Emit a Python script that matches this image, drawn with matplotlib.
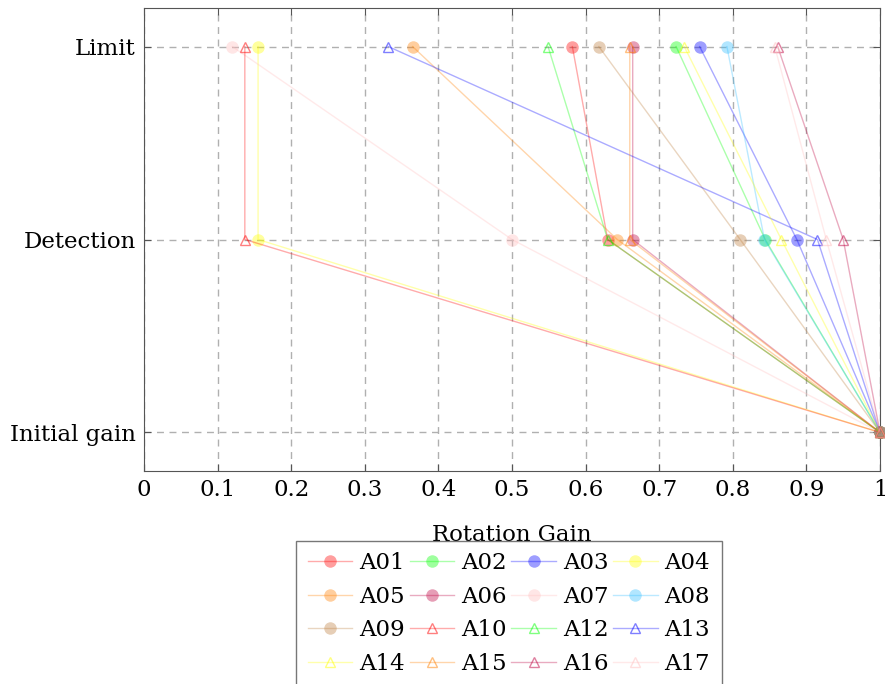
import matplotlib
matplotlib.use("Agg")
import matplotlib.pyplot as plt

plt.rcParams['font.family'] = ['DejaVu Serif']

names = ["A01", "A02", "A03", "A04", "A05", "A06", "A07", "A08", "A09",
         "A10", "A12", "A13", "A14", "A15", "A16", "A17"]
initial = [1.0] * 16
detection = [0.630, 0.844, 0.887, 0.155, 0.643, 0.664, 0.500, 0.843, 0.810,
             0.137, 0.630, 0.915, 0.866, 0.660, 0.950, 0.927]
limit = [0.582, 0.723, 0.755, 0.155, 0.365, 0.664, 0.120, 0.792, 0.618,
         0.137, 0.549, 0.332, 0.734, 0.660, 0.861, 0.857]
markers = ["o"] * 9 + ["^"] * 7
stages = ["Initial gain", "Detection", "Limit"]
xticks = [0, 0.1, 0.2, 0.3, 0.4, 0.5, 0.6, 0.7, 0.8, 0.9, 1]
xticklabels = ["0", "0.1", "0.2", "0.3", "0.4", "0.5", "0.6", "0.7", "0.8", "0.9", "1"]

palette = {
    "red": (1, 0, 0), "green": (0, 1, 0), "blue": (0, 0, 1), "yellow": (1, 1, 0),
    "orange": (1, 0.5, 0), "purple": (0.75, 0, 0.25), "pink": (1, 0.75, 0.75),
    "cyan": (0.2, 0.75, 1.0), "brown": (0.75, 0.5, 0.25),
}
color_names = ["red", "green", "blue", "yellow", "orange", "purple", "pink", "cyan", "brown",
               "red", "green", "blue", "yellow", "orange", "purple", "pink"]

FS = 16.5

fig = plt.figure(figsize=(8.85, 6.84), dpi=100)
ax = fig.add_axes([144/885, 1-471/684, 736/885, 463/684])

handles = []
for i, n in enumerate(names):
    c = palette[color_names[i]]
    xs = [initial[i], detection[i], limit[i]]
    ys = [0, 1, 2]
    if markers[i] == "o":
        h, = ax.plot(xs, ys, color=c + (0.33,), lw=1.0, marker="o", ms=9,
                     mfc=c + (0.38,), mec=(0, 0, 0, 0), label=n, clip_on=False, zorder=3)
    else:
        h, = ax.plot(xs, ys, color=c + (0.33,), lw=1.0, marker="^", ms=7.5,
                     mfc="none", mec=c + (0.5,), mew=1.0, label=n, clip_on=False, zorder=3)
    handles.append(h)

ax.set_xlim(0, 1)
ax.set_ylim(-0.2, 2.2)
ax.set_xticks(xticks)
ax.set_xticklabels(xticklabels, fontsize=FS)
ax.set_yticks([0, 1, 2])
ax.set_yticklabels(stages, fontsize=FS)
ax.tick_params(direction="in", length=5, top=True, right=True, color="#555555", pad=6)
ax.grid(True, linestyle=(0, (5, 4)), color="#b0b0b0", lw=1.0)
ax.set_axisbelow(True)
for s in ax.spines.values():
    s.set_color("#555555")
ax.set_xlabel("Rotation Gain", fontsize=FS, labelpad=16)

# reorder so that legend reads row-wise with 4 columns
ncol = 4
nrow = (len(handles) + ncol - 1) // ncol
order = [r * ncol + c for c in range(ncol) for r in range(nrow)]
leg = fig.legend([handles[k] for k in order], [names[k] for k in order],
                 loc="upper center", bbox_to_anchor=(509/885, 1-541/684), ncol=ncol,
                 fontsize=FS, frameon=True, fancybox=False, edgecolor="#555555",
                 handlelength=1.95, handletextpad=0.3, columnspacing=0.2,
                 labelspacing=0.5, borderpad=0.5, borderaxespad=0)
leg.get_frame().set_linewidth(1.0)

fig.savefig("out.png", dpi=100)
